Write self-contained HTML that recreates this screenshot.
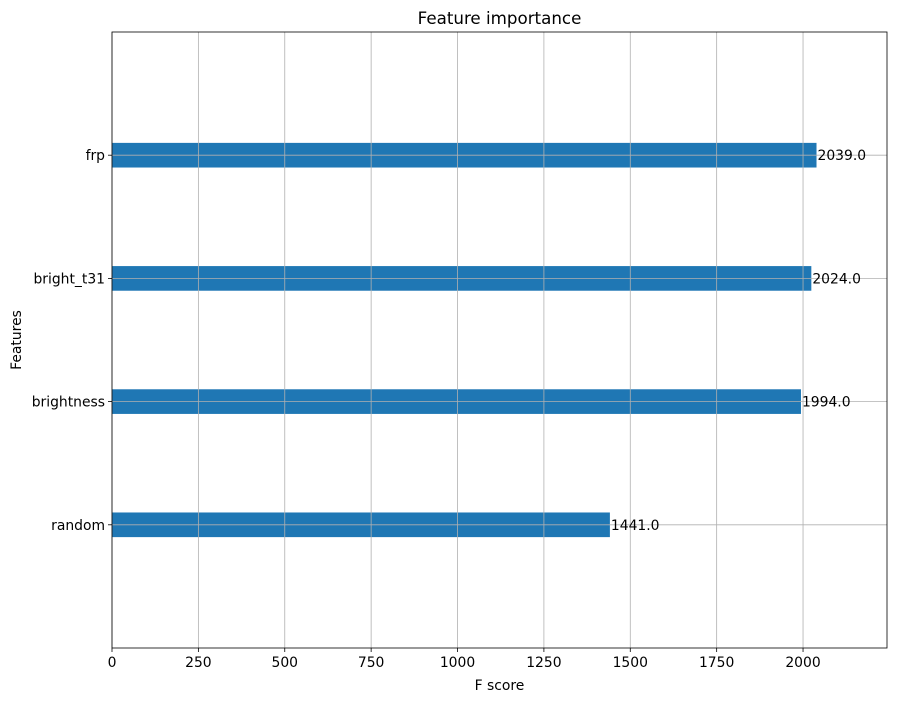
<!DOCTYPE html>
<html><head><meta charset="utf-8"><style>
body{margin:0;background:#fff;}
svg text{font-family:"DejaVu Sans","Liberation Sans",sans-serif;}
</style></head><body>
<svg id="chart" width="897" height="701" viewBox="0 0 897 701">
<rect width="897" height="701" fill="#fff"/>
<g id="grid"></g><g id="bars"></g><g id="gridTop"></g><g id="axes"></g>
</svg>
<script>
const categories = ["random","brightness","bright_t31","frp"];
const values = [1441, 1994, 2024, 2039];
const valueLabels = ["1441.0","1994.0","2024.0","2039.0"];
const xTicks = [0,250,500,750,1000,1250,1500,1750,2000];

const L=112,R=887,T=32,B=648;
const xMax=2243, yMin=-1, yMax=4;
const FS=13.9;
const x=v=>L+(v/xMax)*(R-L);
const y=i=>B-(i-yMin)/(yMax-yMin)*(B-T);
const NS="http://www.w3.org/2000/svg";
function mk(tag,attrs,parent,text){const e=document.createElementNS(NS,tag);for(const k in attrs)e.setAttribute(k,attrs[k]);if(text!==undefined)e.textContent=text;parent.appendChild(e);return e;}
const grid=document.getElementById('grid'),bars=document.getElementById('bars'),gt=document.getElementById('gridTop'),axes=document.getElementById('axes');

xTicks.forEach(t=>{
  const g=mk('line',{x1:x(t),x2:x(t),y1:T,y2:B,stroke:'#b0b0b0','stroke-width':0.8},gt);
  
  
  const tk=mk('line',{x1:x(t),x2:x(t),y1:B,y2:B+4,stroke:'#000','stroke-width':0.8},axes);
  
  
  const lb=mk('text',{x:x(t),y:B+19,'font-size':FS,'text-anchor':'middle'},axes,String(t));
  
  
});
const bh=(B-T)/(yMax-yMin)*0.2;
categories.forEach((c,i)=>{
  const r=mk('rect',{x:x(0),y:y(i)-bh/2,width:x(values[i])-x(0),height:bh,fill:'#1f77b4'},bars);
  
  
  const g=mk('line',{x1:L,x2:R,y1:y(i),y2:y(i),stroke:'#b0b0b0','stroke-width':0.8},gt);
  
  
  const tk=mk('line',{x1:L-4,x2:L,y1:y(i),y2:y(i),stroke:'#000','stroke-width':0.8},axes);
  
  
  const lb=mk('text',{x:L-7,y:y(i)+5,'font-size':FS,'text-anchor':'end'},axes,c);
  
  
  const vl=mk('text',{x:x(values[i])+1,y:y(i)+5,'font-size':FS},axes,valueLabels[i]);
  
  
});
const fr=mk('rect',{x:L,y:T,width:R-L,height:B-T,fill:'none',stroke:'#000','stroke-width':0.8},axes);


const ti=mk('text',{x:(L+R)/2,y:T-8,'font-size':16.7,'text-anchor':'middle'},axes,'Feature importance');


const xt=mk('text',{x:(L+R)/2,y:B+42,'font-size':FS,'text-anchor':'middle'},axes,'F score');


const yt=mk('text',{x:21,y:(T+B)/2,'font-size':FS,'text-anchor':'middle',transform:'rotate(-90 21 '+((T+B)/2)+')'},axes,'Features');


</script>
</body></html>
